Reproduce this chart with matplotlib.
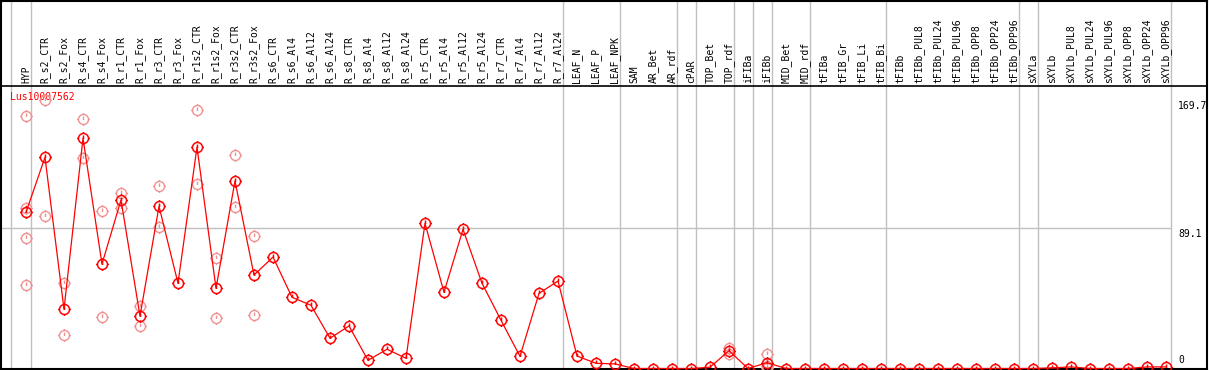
import numpy as np
import matplotlib
matplotlib.use("Agg")
import matplotlib.pyplot as plt
from matplotlib.path import Path

# Sample names (columns)
samples = ["HYP", "R_s2_CTR", "R_s2_Fox", "R_s4_CTR", "R_s4_Fox", "R_r1_CTR", "R_r1_Fox",
           "R_r3_CTR", "R_r3_Fox", "R_r1s2_CTR", "R_r1s2_Fox", "R_r3s2_CTR", "R_r3s2_Fox",
           "R_s6_CTR", "R_s6_Al4", "R_s6_Al12", "R_s6_Al24", "R_s8_CTR", "R_s8_Al4",
           "R_s8_Al12", "R_s8_Al24", "R_r5_CTR", "R_r5_Al4", "R_r5_Al12", "R_r5_Al24",
           "R_r7_CTR", "R_r7_Al4", "R_r7_Al12", "R_r7_Al24", "LEAF_N", "LEAF_P", "LEAF_NPK",
           "SAM", "AR_Bet", "AR_rdf", "cPAR", "TOP_Bet", "TOP_rdf", "iFIBa", "iFIBb",
           "MID_Bet", "MID_rdf", "tFIBa", "tFIB_Gr", "tFIB_Li", "tFIB_Bi", "tFIBb",
           "tFIBb_PUL8", "tFIBb_PUL24", "tFIBb_PUL96", "tFIBb_OPP8", "tFIBb_OPP24",
           "tFIBb_OPP96", "sXYLa", "sXYLb", "sXYLb_PUL8", "sXYLb_PUL24", "sXYLb_PUL96",
           "sXYLb_OPP8", "sXYLb_OPP24", "sXYLb_OPP96"]

# mean expression per sample
means = [99.1, 134.0, 37.6, 146.1, 66.3, 106.9, 33.3, 102.9, 54.1, 140.5, 50.9, 119.0, 59.3,
         70.7, 45.2, 40.1, 19.2, 27.0, 5.2, 12.2, 6.5, 92.1, 48.4, 88.3, 54.1,
         30.6, 7.7, 47.7, 55.5, 7.9, 3.3, 2.9,
         0, 0, 0, 0, 0.8, 11.3, 0, 3.7,
         0, 0, 0, 0, 0, 0, 0,
         0, 0, 0, 0, 0, 0,
         0, 0.4, 1.0, 0, 0, 0, 1.0, 1.0]

# individual replicates (where visible)
rep_names = ["HYP", "R_s2_CTR", "R_s2_Fox", "R_s4_CTR", "R_s4_Fox", "R_r1_CTR", "R_r1_Fox",
             "R_r3_CTR", "R_r1s2_CTR", "R_r1s2_Fox", "R_r3s2_CTR", "R_r3s2_Fox",
             "TOP_rdf", "iFIBb"]
rep_values = [[160.0, 101.6, 82.6, 52.8], [170.4, 96.6], [54.1, 21.1], [158.1, 133.4],
              [99.9, 32.5], [111.2, 102.0], [39.8, 26.8], [115.6, 89.6], [163.8, 116.9],
              [69.9, 31.9], [135.3, 102.3], [83.9, 33.9], [13.3, 9.3], [8.9, 0.5, 1.7]]

# group separators (drawn just right of these samples)
sep_after = ["HYP", "R_r7_Al24", "LEAF_NPK", "AR_rdf", "cPAR", "TOP_rdf", "iFIBa", "iFIBb",
             "MID_rdf", "tFIB_Bi", "tFIBb_OPP96", "sXYLa", "sXYLb_OPP96"]

gene = "Lus10007562"
ymax = 169.7
ymid = 89.1

x = np.arange(len(samples))
idx = {s: i for i, s in enumerate(samples)}

# circle with little ticks sticking out, plus a short stroke inside
circ = Path.unit_circle()
ticks = Path([(0, 1), (0, 1.25), (0, -1), (0, -1.25), (1, 0), (1.25, 0), (-1, 0), (-1.25, 0),
              (0, 0.6), (0, -0.1)],
             [Path.MOVETO, Path.LINETO] * 5)
tickcirc = Path.make_compound_path(circ, ticks)

W, H = 1209, 370
fig = plt.figure(figsize=(W / 100, H / 100), dpi=100)
ax = fig.add_axes([1 / W, 1.5 / H, 1206 / W, 368 / H])
ax.set_xlim(-25 / 19, 1181 / 19)
ax.set_ylim(0, 368 / 1.576)
ax.set_xticks([])
ax.set_yticks([])
for sp in ax.spines.values():
    sp.set_linewidth(1.5)
    sp.set_color("black")

grey = "#c0c0c0"
mono = "DejaVu Sans Mono"

# separators
ax.axvline(-0.79, color=grey, lw=1, zorder=1)
for s in sep_after:
    ax.axvline(idx[s] + 0.25, color=grey, lw=1, zorder=1)
ax.hlines(ymid, -25 / 19, idx["sXYLb_OPP96"] + 0.25, color=grey, lw=1, zorder=1)
header_y = 179.25
ax.axhline(header_y, color="black", lw=1.2, zorder=2)

# column labels
for i, s in enumerate(samples):
    ax.text(i, header_y + 1.6, s, rotation=90, ha="center", va="bottom",
            fontsize=7, family=mono, color="black")

ax.text(-0.84, 175.5, gene, ha="left", va="top", fontsize=7, family=mono, color="red")

# replicate points
for s, vals in zip(rep_names, rep_values):
    ax.plot([idx[s]] * len(vals), vals, ls="none", marker=tickcirc, ms=9,
            mfc="none", mec="#f09090", mew=1, zorder=3)

# mean line
ax.plot(x, means, color="red", lw=0.9, zorder=4)
ax.plot(x, means, ls="none", marker=tickcirc, ms=9, mfc="none", mec="red", mew=1.1, zorder=5)

# y labels
xl = 60.63
ax.text(xl, ymax, f"{ymax}", ha="left", va="top", fontsize=7, family=mono)
ax.text(xl, ymid - 0.5, f"{ymid}", ha="left", va="top", fontsize=7, family=mono)
ax.text(xl, 2.0, "0", ha="left", va="bottom", fontsize=7, family=mono)

fig.savefig("out.png", dpi=100)
